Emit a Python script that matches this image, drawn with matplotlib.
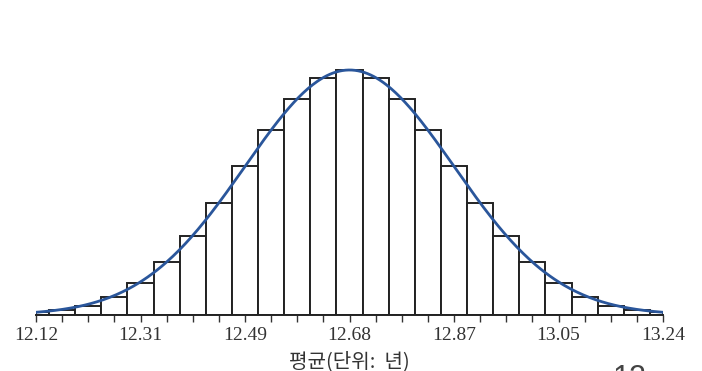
import numpy as np
import matplotlib
matplotlib.use("Agg")
import matplotlib.pyplot as plt

# sampling distribution of the mean (years)
mu = 12.68
sigma = 0.1867
bin_w = sigma / 4

# bar heights relative to the peak of the normal curve, left to right
bar_heights = [0.012, 0.020, 0.037, 0.073, 0.131, 0.216, 0.322, 0.457,
               0.608, 0.755, 0.882, 0.967, 1.000, 0.967, 0.882, 0.755,
               0.608, 0.457, 0.322, 0.216, 0.131, 0.073, 0.037, 0.020, 0.012]
tick_vals = [12.12, 12.31, 12.49, 12.68, 12.87, 13.05, 13.24]
tick_labels = ["12.12", "12.31", "12.49", "12.68", "12.87", "13.05", "13.24"]

n = len(bar_heights)
centers = mu + (np.arange(n) - n // 2) * bin_w
x_lo, x_hi = mu - 3 * sigma, mu + 3 * sigma

fig = plt.figure(figsize=(7.02, 3.71), dpi=100)
W, H = 702, 371
ax = fig.add_axes([36 / W, 56 / H, (663 - 36) / W, (315 - 20) / H])

# bars: the outer two are cut in half by the axis limits
for c, h in zip(centers, bar_heights):
    left = max(c - bin_w / 2, x_lo)
    right = min(c + bin_w / 2, x_hi)
    ax.bar(left, h, width=right - left, align="edge", facecolor="white",
           edgecolor="#222222", linewidth=1.4, zorder=2)

xs = np.linspace(x_lo, x_hi, 400)
ys = np.exp(-0.5 * ((xs - mu) / sigma) ** 2)
ax.plot(xs, ys, color="#2a569b", linewidth=2.0, zorder=3)

ax.set_xlim(x_lo, x_hi)
ax.set_ylim(0, 295 / 245)
for s in ["left", "right", "top"]:
    ax.spines[s].set_visible(False)
ax.spines["bottom"].set_color("#222222")
ax.spines["bottom"].set_linewidth(1.4)
ax.set_yticks([])

ax.set_xticks([mu + k * sigma for k in range(-3, 4)])
ax.set_xticklabels(tick_labels, fontfamily="Liberation Serif", fontsize=14,
                   color="#333333")
ax.set_xticks(centers, minor=True)
ax.tick_params(axis="x", which="both", direction="out", length=5,
               width=1.0, color="#333333", pad=4)

ax.set_xlabel("평균(단위:  년)", fontfamily=["Noto Sans CJK KR", "DejaVu Sans"],
              fontsize=14.5, color="#333333", labelpad=5)

# page number at the bottom edge
fig.text(630 / W, 1 - 364 / H, "12", fontsize=22, color="#444444",
         ha="center", va="top", fontfamily="Liberation Sans")

fig.savefig("out.png", dpi=100, facecolor="white")
